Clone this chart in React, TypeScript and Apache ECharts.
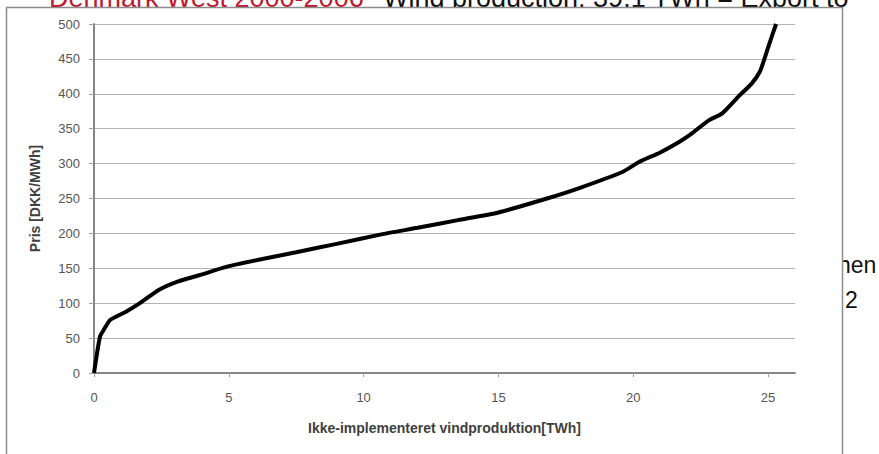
import React, { useEffect, useRef } from "react";
import * as echarts from "echarts";

const xValues = [0, 0.22, 0.35, 0.6, 1.2, 1.7, 2.4, 3.1, 3.9, 4.9, 6.2, 7.5, 9.0, 10.7, 12.0, 13.5, 15.0, 16.8, 18.0, 19.6, 20.2, 21.0, 21.7, 22.1, 22.8, 23.3, 23.9, 24.4, 24.7, 24.85, 25.05, 25.3];
const yValues = [0, 52, 61, 76, 88, 100, 119, 131, 140, 152, 163, 173, 185, 199, 208, 219, 230, 250, 265, 288, 302, 316, 331, 341, 362, 372, 396, 415, 432, 448, 472, 500];
const xTicks = [0, 5, 10, 15, 20, 25];
const yTicks = [0, 50, 100, 150, 200, 250, 300, 350, 400, 450, 500];

const xTitle = "Ikke-implementeret vindproduktion[TWh]";
const yTitle = "Pris [DKK/MWh]";
const bgTitleRed = "Denmark West 2000-2006";
const bgTitleBlack = "Wind production: 39.1 TWh = Export to";
const bgRight1 = "hen";
const bgRight2 = "2";

export default function App() {
  const ref = useRef<HTMLDivElement>(null);
  useEffect(() => {
    if (!ref.current) return;
    const chart = echarts.init(ref.current, null, { renderer: "svg" });
    const data = xValues.map((x, i) => [x, yValues[i]]);
    const labelFont = { fontFamily: "Liberation Sans", fontSize: 13, color: "#555555" };
    chart.setOption({
      animation: false,
      backgroundColor: "#ffffff",
      graphic: [
        { type: "text", z: -20, left: 49, top: -16, style: { text: bgTitleRed, fontFamily: "Liberation Sans", fontSize: 27, fill: "#c0182f" } },
        { type: "text", z: -20, left: 383, top: -16, style: { text: bgTitleBlack, fontFamily: "Liberation Sans", fontSize: 27, fill: "#111111" } },
        { type: "text", z: -20, left: 838, top: 253, style: { text: bgRight1, fontFamily: "Liberation Sans", fontSize: 23, fill: "#111111" } },
        { type: "text", z: -20, left: 845, top: 288, style: { text: bgRight2, fontFamily: "Liberation Sans", fontSize: 23, fill: "#111111" } },
        { type: "rect", z: -10, shape: { x: 6.5, y: 7.5, width: 836, height: 460 }, style: { fill: "#ffffff", stroke: "#8c8c8c", lineWidth: 1.5 } },
      ],
      grid: { left: 94, right: 84, top: 24, bottom: 81 },
      xAxis: {
        type: "value",
        min: 0,
        max: 26,
        interval: 5,
        name: xTitle,
        nameLocation: "middle",
        nameGap: 48,
        nameTextStyle: { fontFamily: "Liberation Sans", fontSize: 14, fontWeight: "bold", color: "#404040" },
        axisLine: { show: true, lineStyle: { color: "#868686", width: 2 } },
        axisTick: { show: true, length: 4, lineStyle: { color: "#a0a0a0" }, customValues: xTicks },
        axisLabel: { ...labelFont, margin: 18, customValues: xTicks },
        splitLine: { show: false },
      },
      yAxis: {
        type: "value",
        min: 0,
        max: 500,
        interval: 50,
        name: yTitle,
        nameLocation: "middle",
        nameGap: 52,
        nameRotate: 90,
        nameTextStyle: { fontFamily: "Liberation Sans", fontSize: 14, fontWeight: "bold", color: "#404040" },
        axisLine: { show: true, lineStyle: { color: "#868686", width: 2 } },
        axisTick: { show: true, length: 5, lineStyle: { color: "#a0a0a0" }, customValues: yTicks },
        axisLabel: { ...labelFont, margin: 14, customValues: yTicks },
        splitLine: { show: true, lineStyle: { color: "#b3b3b3", width: 1.2 } },
      },
      series: [
        {
          type: "line",
          data,
          showSymbol: false,
          smooth: 0.2,
          lineStyle: { color: "#000000", width: 4 },
          z: 5,
        },
      ],
    });
    return () => chart.dispose();
  }, []);
  return <div ref={ref} style={{ position: "absolute", left: 0, top: 0, width: 879, height: 454 }} />;
}
